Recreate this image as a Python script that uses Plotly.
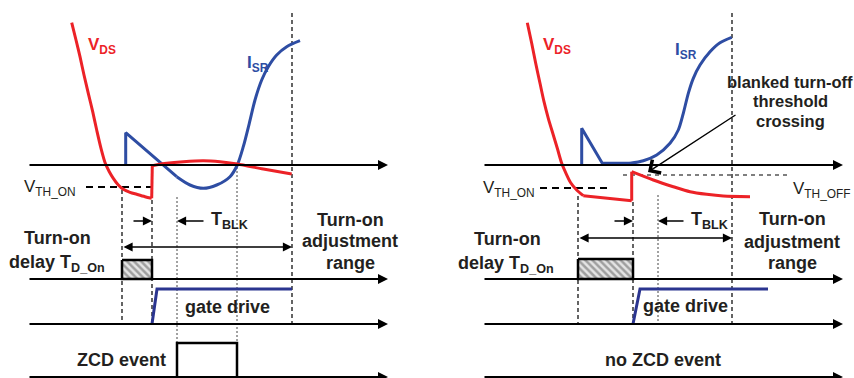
import plotly.graph_objects as go

W, H = 854, 378
RED = "#EC2227"
BLUE = "#2E4DA3"
NAVY = "#2B3590"
INK = "#231F20"
FONT = "Liberation Sans, Arial, sans-serif"

# ---------------- data (time = x, level = y, screen units) ----------------
# Trace baselines (VDS/ISR, delay, gate drive, ZCD) for both panels
trace_levels = [165, 279, 324, 377]
left_axis_span = [28, 388]
right_axis_span = [483, 843]

# Left panel waveforms
vds_l_fall_x = [71.7, 76, 80, 84, 88.3, 92.7, 96.7, 101, 105.3, 109.3, 113.3, 118.3, 123.3, 130, 136.7, 145, 151.7]
vds_l_fall_y = [22.7, 40, 56.7, 75, 93.3, 111.7, 130, 148.3, 163.3, 171.7, 178.3, 185, 189.3, 192.3, 194.3, 196.7, 198.3]
vds_l_after_x = [152.3, 166.7, 183.3, 203.3, 220, 237.3, 263.3, 291.7]
vds_l_after_y = [165.7, 163.3, 161.7, 160.7, 161.7, 164, 169, 174]
isr_l_x = [125.7, 125.7, 176.7, 190, 203.3, 216.7, 230, 237.3, 243.3, 249.3, 255, 261.7, 268.3, 276.7, 286.7, 300]
isr_l_y = [165, 132.7, 176.7, 185, 188.3, 185, 176.7, 165, 146.7, 123.3, 100, 80, 66.7, 55, 46.7, 40.7]
vth_on_l = [86, 152, 187]
t_l = dict(ton=122, tdrv=152, tblk0=177, tblk1=237, tend=292)
gate_l_x = [152, 157, 292]
gate_l_y = [324, 289, 289]
zcd_l_x = [28, 177, 177, 237, 237, 388]
zcd_l_y = [377, 377, 343, 343, 377, 377]

# Right panel waveforms
vds_r_fall_x = [527.3, 531.7, 535.7, 540, 544, 548.3, 553.3, 557.3, 561.7, 566, 570.7, 576.7, 583.3, 631.7]
vds_r_fall_y = [22.7, 43.3, 63.3, 83.3, 101.7, 118.3, 135, 148.3, 163.3, 173.3, 182.7, 190, 195.7, 200.7]
vds_r_after_x = [631.7, 653.3, 673.3, 690, 706.7, 723.3, 750]
vds_r_after_y = [171.7, 180, 186.7, 191.7, 194.3, 196, 196.7]
isr_r_x = [581.7, 581.7, 602.3, 630, 643.3, 656.7, 670, 678.3, 683.3, 688.3, 693.3, 700, 710, 720, 731.7]
isr_r_y = [165, 128.3, 163.3, 163.3, 160.7, 155, 143.3, 130, 113.3, 93.3, 78.3, 65, 51.7, 42.7, 37.3]
vth_on_r = [540, 610, 188]
vth_off_r = [623, 790, 175]
t_r = dict(ton=578, tdrv=633, tblk0=658, tend=732)
gate_r_x = [633, 640, 768]
gate_r_y = [324, 289, 289]

fig = go.Figure()


def line(x, y, color, width, shape="linear", dash="solid"):
    fig.add_trace(go.Scatter(x=x, y=y, mode="lines", hoverinfo="skip",
                             line=dict(color=color, width=width, shape=shape, dash=dash,
                                       smoothing=0.8)))


def vline(x, y0, y1, width=1.3, dash="4px,3px", color="#111"):
    fig.add_shape(type="line", x0=x, x1=x, y0=y0, y1=y1,
                  line=dict(color=color, width=width, dash=dash), layer="below")


def arrow(x_tip, y_tip, x_tail, y_tail, width=2, size=1, head=2, both=False, color="#000"):
    fig.add_annotation(x=x_tip, y=y_tip, ax=x_tail, ay=y_tail, axref="x", ayref="y",
                       xref="x", yref="y", text="", showarrow=True, arrowhead=head,
                       arrowwidth=width, arrowsize=size, arrowcolor=color,
                       startarrowhead=head, startarrowsize=size,
                       arrowside="end+start" if both else "end", standoff=0, startstandoff=0)


def text(x, y, s, size=18, color=INK, bold=True, xanchor="center"):
    fig.add_annotation(x=x, y=y, xref="x", yref="y", text=f"<b>{s}</b>" if bold else s,
                       showarrow=False, xanchor=xanchor, yanchor="middle",
                       font=dict(family=FONT, size=size, color=color))


def hatch(x0, x1, y0, y1):
    fig.add_trace(go.Scatter(x=[x0, x1, x1, x0, x0], y=[y0, y0, y1, y1, y0], mode="lines",
                             fill="toself", hoverinfo="skip",
                             fillpattern=dict(shape="\\", fgcolor="#5a5a5a", bgcolor="#e4e4e4",
                                              size=5, solidity=0.5),
                             line=dict(color="#000", width=2.5)))


# ---------------- vertical guides ----------------
vline(t_l["ton"], 190, trace_levels[2])
vline(t_l["tdrv"], 200, trace_levels[2])
vline(t_l["tblk0"], 197, trace_levels[3], width=1, dash="2px,2px", color="#444")
vline(t_l["tblk1"], 167, trace_levels[3], width=1, dash="2px,2px", color="#444")
vline(t_l["tend"], 13, trace_levels[2])

vline(t_r["ton"], 196, trace_levels[2])
vline(t_r["tdrv"], 202, trace_levels[2])
vline(t_r["tblk0"], 195, trace_levels[2], width=1, dash="2px,2px", color="#444")
vline(t_r["tend"], 13, trace_levels[2])

# ---------------- axes with arrowheads ----------------
for lvl in trace_levels:
    for span in (left_axis_span, right_axis_span):
        arrow(span[1], lvl, span[0], lvl, width=2, size=1, head=2)

# thresholds
line(vth_on_l[:2], [vth_on_l[2]] * 2, "#000", 2, dash="7px,5px")
line(vth_on_r[:2], [vth_on_r[2]] * 2, "#000", 2, dash="7px,5px")
line(vth_off_r[:2], [vth_off_r[2]] * 2, "#000", 1.2, dash="4px,4px")

# delay boxes
hatch(t_l["ton"], t_l["tdrv"], 260, trace_levels[1])
hatch(t_r["ton"], t_r["tdrv"], 259, trace_levels[1])

# ZCD pulse
line(zcd_l_x[1:5], zcd_l_y[1:5], "#000", 2.5)

# gate drive
line(gate_l_x, gate_l_y, NAVY, 3)
line(gate_r_x, gate_r_y, NAVY, 3)

# ISR curves
line(isr_l_x[:3], isr_l_y[:3], BLUE, 3)
line(isr_l_x[2:], isr_l_y[2:], BLUE, 3, shape="spline")
line(isr_r_x[:4], isr_r_y[:4], BLUE, 3)
line(isr_r_x[3:], isr_r_y[3:], BLUE, 3, shape="spline")

# VDS curves
line(vds_l_fall_x, vds_l_fall_y, RED, 3, shape="spline")
line([vds_l_fall_x[-1], vds_l_after_x[0]], [vds_l_fall_y[-1], vds_l_after_y[0]], RED, 3)
line(vds_l_after_x, vds_l_after_y, RED, 3, shape="spline")
line(vds_r_fall_x[:-1], vds_r_fall_y[:-1], RED, 3, shape="spline")
line(vds_r_fall_x[-2:], vds_r_fall_y[-2:], RED, 3)
line([vds_r_fall_x[-1], vds_r_after_x[0]], [vds_r_fall_y[-1], vds_r_after_y[0]], RED, 3)
line(vds_r_after_x, vds_r_after_y, RED, 3, shape="spline")

# timing arrows
arrow(t_l["tdrv"], 221, 132, 221, width=1.3, size=1.4)
arrow(t_l["tblk0"], 221, 205, 221, width=1.3, size=1.4)
arrow(t_l["tend"], 247, t_l["ton"], 247, width=1.3, size=1.4, both=True)
arrow(t_r["tdrv"], 221, 613, 221, width=1.3, size=1.4)
arrow(t_r["tblk0"], 221, 685, 221, width=1.3, size=1.4)
arrow(t_r["tend"], 238, t_r["ton"], 238, width=1.3, size=1.4, both=True)
arrow(648, 172, 737, 114, width=1.4, size=2.2, head=4)

# ---------------- labels ----------------
text(86, 46, "V<sub>DS</sub>", size=17, color=RED, xanchor="left")
text(245, 64, "I<sub>SR</sub>", size=17, color=BLUE, xanchor="left")
text(541, 46, "V<sub>DS</sub>", size=17, color=RED, xanchor="left")
text(673, 51, "I<sub>SR</sub>", size=17, color=BLUE, xanchor="left")

text(78, 188, "V<sub>TH_ON</sub>", size=17, bold=False, xanchor="right")
text(537, 189, "V<sub>TH_ON</sub>", size=17, bold=False, xanchor="right")
text(791, 190, "V<sub>TH_OFF</sub>", size=17, bold=False, xanchor="left")

text(209, 220, "T<sub>BLK</sub>", size=18, xanchor="left")
text(689, 220, "T<sub>BLK</sub>", size=18, xanchor="left")

text(57, 238, "Turn-on")
text(57, 263, "delay T<sub>D_On</sub>")
text(507, 239, "Turn-on")
text(506, 264, "delay T<sub>D_On</sub>")

for cx, ys in ((350, (220, 241, 263)), (792, (219, 242, 263))):
    text(cx, ys[0], "Turn-on")
    text(cx, ys[1], "adjustment")
    text(cx, ys[2], "range")

text(227, 307, "gate drive")
text(685, 306, "gate drive")
text(121, 360, "ZCD event")
text(663, 360, "no ZCD event")

text(790, 82, "blanked turn-off", size=16.5)
text(790, 101, "threshold", size=16.5)
text(790, 121, "crossing", size=16.5)

fig.update_layout(
    width=W, height=H, margin=dict(l=0, r=0, t=0, b=0),
    paper_bgcolor="white", plot_bgcolor="white", showlegend=False,
    xaxis=dict(range=[0, W], visible=False, fixedrange=True),
    yaxis=dict(range=[H, 0], visible=False, fixedrange=True),
)

fig.write_html("out.html")
